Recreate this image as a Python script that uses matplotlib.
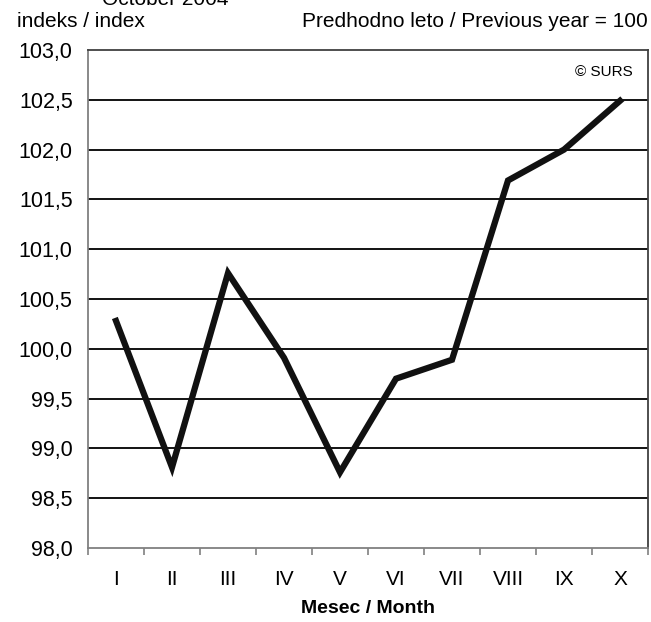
import matplotlib
matplotlib.use('Agg')
import matplotlib.pyplot as plt

plt.rcParams['font.family'] = ['Liberation Sans', 'DejaVu Sans']

months = ['I', 'II', 'III', 'IV', 'V', 'VI', 'VII', 'VIII', 'IX', 'X']
index_values = [100.28, 98.81, 100.76, 99.91, 98.76, 99.70, 99.89, 101.69, 102.00, 102.49]
y_ticks = [98.0, 98.5, 99.0, 99.5, 100.0, 100.5, 101.0, 101.5, 102.0, 102.5, 103.0]

fig = plt.figure(figsize=(6.51, 6.22), dpi=100)
ax = fig.add_axes([88 / 651, 74 / 622, 560 / 651, 498 / 622])

for y in y_ticks[1:-1]:
    ax.axhline(y, color='black', linewidth=1.3, zorder=1)

ax.plot(range(len(months)), index_values, color='#111111', linewidth=4.5,
        solid_joinstyle='miter', zorder=3)

ax.set_xlim(-0.5, len(months) - 0.5)
ax.set_ylim(98.0, 103.0)

ax.set_yticks(y_ticks)
ax.set_yticklabels([f'{v:.1f}'.replace('.', ',') for v in y_ticks], fontsize=15.5)
ax.tick_params(axis='y', length=0, pad=11)

ax.set_xticks([i + 0.5 for i in range(-1, len(months))])
ax.set_xticklabels([])
ax.set_xticks(range(len(months)), minor=True)
ax.set_xticklabels(months, minor=True, fontsize=15)
ax.tick_params(axis='x', which='major', length=5, color='#808080', width=1.2, direction='out')
ax.tick_params(axis='x', which='minor', length=0, pad=16)

for side in ['left', 'bottom']:
    ax.spines[side].set_color('#808080')
    ax.spines[side].set_linewidth(1.3)
for side in ['top', 'right']:
    ax.spines[side].set_color('#404040')
    ax.spines[side].set_linewidth(1.3)

ax.set_xlabel('Mesec / Month', fontsize=14, fontweight='bold', labelpad=8)

ax.text(0.973, 0.956, '© SURS', transform=ax.transAxes, ha='right', va='center', fontsize=11)

fig.text(17 / 651, 1 - 27 / 622, 'indeks / index', ha='left', va='baseline', fontsize=15)
fig.text(648 / 651, 1 - 27 / 622, 'Predhodno leto / Previous year = 100', ha='right',
         va='baseline', fontsize=15)
fig.text(102 / 651, 1 - 5 / 622, 'October 2004', ha='left', va='baseline', fontsize=15)

fig.savefig('out.png', dpi=100)
